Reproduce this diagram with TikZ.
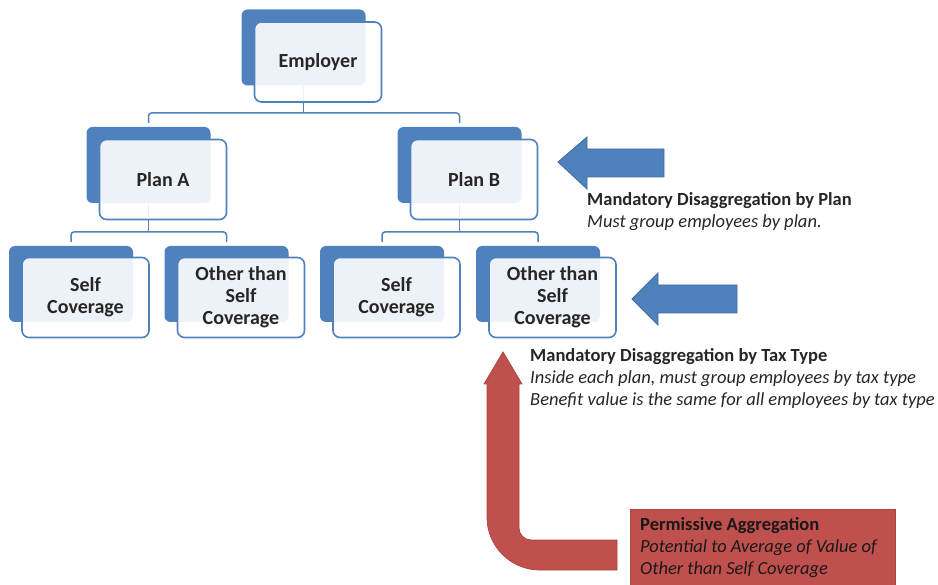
\documentclass[tikz,border=0pt]{standalone}
\usepackage{fontspec}
\setmainfont{Carlito}
\definecolor{boxblue}{HTML}{4F81BD}
\definecolor{arrowedge}{HTML}{3F6BA0}
\definecolor{aggred}{HTML}{C0504D}
\definecolor{aggedge}{HTML}{B04540}
\definecolor{txtgray}{HTML}{262626}

\begin{document}
\begin{tikzpicture}[x=1pt,y=-1pt,
  backbox/.style={fill=boxblue, rounded corners=6pt, minimum width=124pt, minimum height=76pt, inner sep=0pt},
  frontbox/.style={draw=boxblue, line width=1.6pt, fill=white, fill opacity=0.9, text opacity=1, rounded corners=7pt,
    minimum width=127pt, minimum height=80pt, inner sep=0pt, align=center, text=txtgray,
    font=\fontsize{20}{22}\selectfont\bfseries},
  link/.style={draw=boxblue, line width=1.5pt, rounded corners=3pt},
  note/.style={anchor=north west, align=left, inner sep=0pt, text=txtgray, font=\fontsize{18.5}{22}\selectfont}]
  \useasboundingbox (0,0) rectangle (938,585);

  \node[backbox] (empB) at (303.5,47.5) {};
  \node[backbox] (planAB) at (148.5,165) {};
  \node[backbox] (planBB) at (459.5,165) {};
  \node[backbox] (selfAB) at (71,284) {};
  \node[backbox] (otherAB) at (226.5,284) {};
  \node[backbox] (selfBB) at (382,284) {};
  \node[backbox] (otherBB) at (538,284) {};

  \coordinate (empJ) at (303.5,113);
  \coordinate (planAJ) at (148.5,232);
  \coordinate (planBJ) at (459.5,232);
  \draw[link] (empB.south) -- (empJ);
  \draw[link, shorten <=4pt, shorten >=4pt] (planAB.north) |- (empJ) -| (planBB.north);
  \draw[link] (planAB.south) -- (planAJ);
  \draw[link, shorten <=4pt, shorten >=4pt] (selfAB.north) |- (planAJ) -| (otherAB.north);
  \draw[link] (planBB.south) -- (planBJ);
  \draw[link, shorten <=4pt, shorten >=4pt] (selfBB.north) |- (planBJ) -| (otherBB.north);

  \node[frontbox] (emp) at (318,62) {Employer};
  \node[frontbox] (planA) at (163,179.5) {Plan A};
  \node[frontbox] (planB) at (474,179.5) {Plan B};
  \node[frontbox] (selfA) at (85.5,297.5) {Self\\Coverage};
  \node[frontbox] (otherA) at (241,297.5) {Other than\\Self\\Coverage};
  \node[frontbox] (selfB) at (396.5,297.5) {Self\\Coverage};
  \node[frontbox] (otherB) at (552.5,297.5) {Other than\\Self\\Coverage};

  \filldraw[fill=boxblue, draw=arrowedge, line width=0.8pt] (558,162) -- (587,137) -- (587,149) -- (664,149)
    -- (664,177) -- (587,177) -- (587,189) -- cycle;
  \filldraw[fill=boxblue, draw=arrowedge, line width=0.8pt] (632,299) -- (658,273) -- (658,285) -- (737,285)
    -- (737,313) -- (658,313) -- (658,325) -- cycle;

  \filldraw[fill=aggred, draw=aggedge, line width=0.8pt] (503,352) -- (522,384) -- (519,384) -- (519,528)
    .. controls (519,534.6) and (524.4,540) .. (531,540) -- (617,540) -- (617,570) -- (540,570)
    .. controls (510.7,570) and (487,546.3) .. (487,517) -- (487,384) -- (484,384) -- cycle;
  \filldraw[fill=aggred, draw=aggedge, line width=0.8pt] (630,509) rectangle (895,600);

  \node[note] (planNote) at (587,192.5) {\textbf{Mandatory Disaggregation by Plan}\\\textit{Must group employees by plan.}};
  \node[note] (taxNote) at (530,348.5) {\textbf{Mandatory Disaggregation by Tax Type}\\
    \textit{Inside each plan, must group employees by tax type}\\
    \textit{Benefit value is the same for all employees by tax type}};
  \node[note, text=black!90] (aggNote) at (640,517.5) {\textbf{Permissive Aggregation}\\
    \textit{Potential to Average of Value of}\\\textit{Other than Self Coverage}};
\end{tikzpicture}
\end{document}
